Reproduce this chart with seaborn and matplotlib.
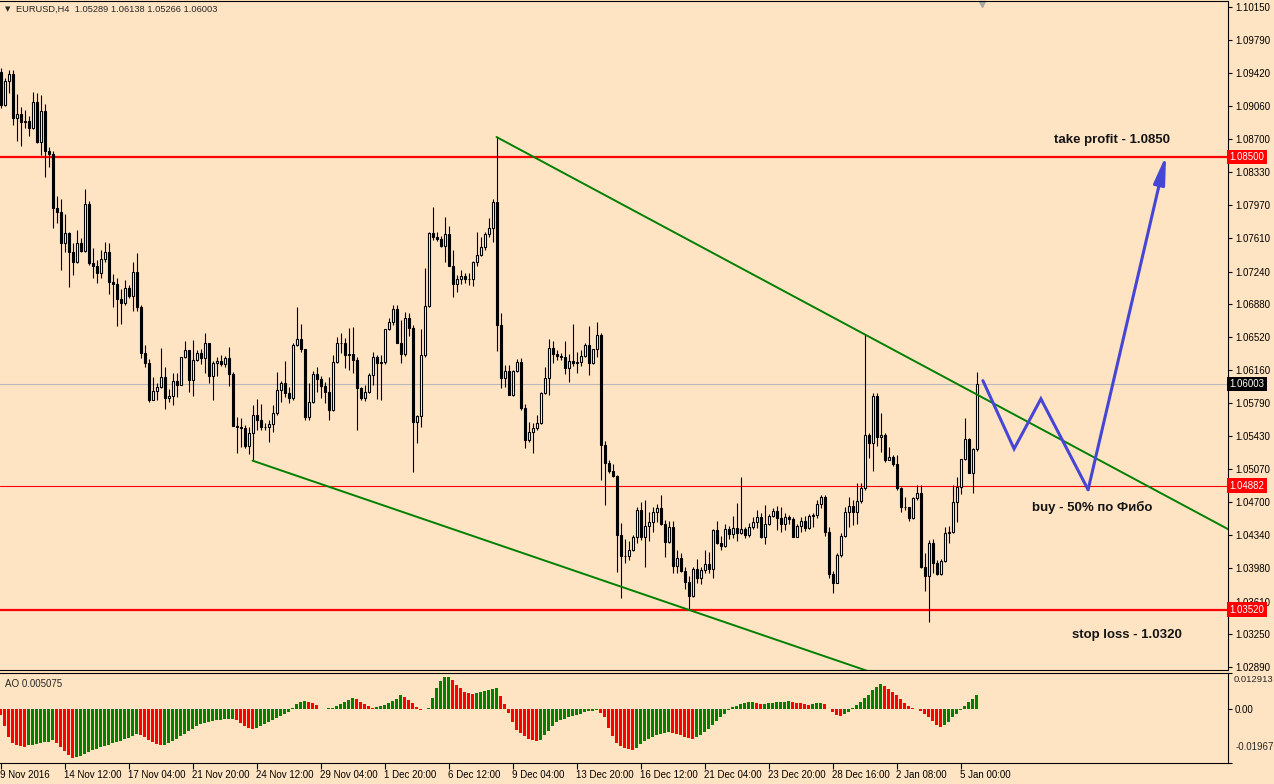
import numpy as np
import pandas as pd
import seaborn as sns
import matplotlib.pyplot as plt

sns.set_theme(style="white", rc={"axes.facecolor": "#FFE4C4", "figure.facecolor": "#FFE4C4",
                                 "axes.edgecolor": "black", "axes.linewidth": 0.8})
plt.rcParams['font.family'] = ['Liberation Sans', 'DejaVu Sans']

# EURUSD H4 candles (open of each bar = previous close)
open0 = 1.0944
highs = [
    1.0948, 1.0937, 1.0946, 1.0946, 1.0919, 1.0905, 1.0902, 1.0895, 1.0922, 1.0920,
    1.0918, 1.0908, 1.0861, 1.0857, 1.0807, 1.0804, 1.0787, 1.0768, 1.0755, 1.0770,
    1.0761, 1.0815, 1.0802, 1.0750, 1.0737, 1.0748, 1.0757, 1.0755, 1.0721, 1.0717,
    1.0705, 1.0715, 1.0709, 1.0735, 1.0744, 1.0687, 1.0643, 1.0628, 1.0608, 1.0601,
    1.0640, 1.0619, 1.0595, 1.0612, 1.0612, 1.0630, 1.0648, 1.0638, 1.0649, 1.0638,
    1.0639, 1.0656, 1.0645, 1.0626, 1.0630, 1.0632, 1.0631, 1.0641, 1.0614, 1.0564,
    1.0563, 1.0555, 1.0553, 1.0577, 1.0584, 1.0578, 1.0557, 1.0561, 1.0577, 1.0614,
    1.0604, 1.0626, 1.0597, 1.0645, 1.0685, 1.0666, 1.0639, 1.0601, 1.0615, 1.0619,
    1.0609, 1.0603, 1.0608, 1.0632, 1.0652, 1.0656, 1.0651, 1.0662, 1.0663, 1.0630,
    1.0597, 1.0599, 1.0612, 1.0636, 1.0632, 1.0632, 1.0661, 1.0673, 1.0687, 1.0687,
    1.0671, 1.0680, 1.0678, 1.0665, 1.0566, 1.0661, 1.0728, 1.0768, 1.0795, 1.0768,
    1.0763, 1.0784, 1.0774, 1.0748, 1.0720, 1.0726, 1.0722, 1.0722, 1.0736, 1.0768,
    1.0762, 1.0768, 1.0783, 1.0804, 1.0872, 1.0678, 1.0621, 1.0621, 1.0616, 1.0628,
    1.0629, 1.0578, 1.0559, 1.0557, 1.0566, 1.0592, 1.0619, 1.0650, 1.0648, 1.0638,
    1.0634, 1.0648, 1.0633, 1.0666, 1.0636, 1.0638, 1.0645, 1.0664, 1.0639, 1.0669,
    1.0656, 1.0538, 1.0517, 1.0512, 1.0500, 1.0447, 1.0430, 1.0428, 1.0434, 1.0465,
    1.0471, 1.0473, 1.0460, 1.0465, 1.0468, 1.0478, 1.0451, 1.0450, 1.0450, 1.0418,
    1.0414, 1.0399, 1.0389, 1.0399, 1.0408, 1.0399, 1.0418, 1.0416, 1.0441, 1.0450,
    1.0433, 1.0446, 1.0444, 1.0455, 1.0469, 1.0498, 1.0443, 1.0447, 1.0454, 1.0462,
    1.0458, 1.0467, 1.0457, 1.0464, 1.0466, 1.0465, 1.0458, 1.0456, 1.0454, 1.0446,
    1.0454, 1.0455, 1.0457, 1.0458, 1.0473, 1.0478, 1.0478, 1.0443, 1.0395, 1.0414,
    1.0436, 1.0465, 1.0476, 1.0473, 1.0491, 1.0491, 1.0655, 1.0546, 1.0590, 1.0590,
    1.0568, 1.0546, 1.0531, 1.0522, 1.0522, 1.0487, 1.0476, 1.0465, 1.0476, 1.0489,
    1.0489, 1.0414, 1.0429, 1.0430, 1.0407, 1.0408, 1.0443, 1.0444, 1.0489, 1.0498,
    1.0518, 1.0563, 1.0541, 1.0530, 1.06138]
lows = [
    1.0904, 1.0906, 1.0920, 1.0885, 1.0868, 1.0862, 1.0882, 1.0873, 1.0881, 1.0865,
    1.0852, 1.0828, 1.0839, 1.0772, 1.0777, 1.0726, 1.0746, 1.0707, 1.0720, 1.0733,
    1.0746, 1.0746, 1.0731, 1.0717, 1.0711, 1.0717, 1.0735, 1.0699, 1.0685, 1.0664,
    1.0666, 1.0687, 1.0695, 1.0681, 1.0681, 1.0629, 1.0619, 1.0581, 1.0583, 1.0583,
    1.0596, 1.0573, 1.0581, 1.0577, 1.0586, 1.0599, 1.0629, 1.0592, 1.0587, 1.0626,
    1.0622, 1.0612, 1.0601, 1.0583, 1.0609, 1.0620, 1.0619, 1.0598, 1.0554, 1.0524,
    1.0531, 1.0530, 1.0523, 1.0516, 1.0550, 1.0550, 1.0550, 1.0537, 1.0548, 1.0566,
    1.0581, 1.0586, 1.0579, 1.0583, 1.0642, 1.0636, 1.0561, 1.0561, 1.0579, 1.0592,
    1.0585, 1.0579, 1.0561, 1.0571, 1.0623, 1.0634, 1.0618, 1.0616, 1.0612, 1.0550,
    1.0583, 1.0582, 1.0590, 1.0599, 1.0584, 1.0583, 1.0622, 1.0660, 1.0665, 1.0645,
    1.0623, 1.0631, 1.0653, 1.0504, 1.0535, 1.0553, 1.0630, 1.0685, 1.0759, 1.0758,
    1.0751, 1.0735, 1.0730, 1.0696, 1.0702, 1.0710, 1.0711, 1.0709, 1.0708, 1.0730,
    1.0741, 1.0748, 1.0762, 1.0757, 1.0637, 1.0596, 1.0597, 1.0588, 1.0587, 1.0614,
    1.0572, 1.0530, 1.0537, 1.0524, 1.0550, 1.0556, 1.0589, 1.0588, 1.0623, 1.0627,
    1.0627, 1.0611, 1.0603, 1.0620, 1.0612, 1.0620, 1.0630, 1.0610, 1.0622, 1.0630,
    1.0495, 1.0467, 1.0502, 1.0498, 1.0394, 1.0365, 1.0403, 1.0407, 1.0417, 1.0425,
    1.0429, 1.0399, 1.0428, 1.0438, 1.0449, 1.0445, 1.0410, 1.0425, 1.0392, 1.0392,
    1.0394, 1.0375, 1.0352, 1.0366, 1.0381, 1.0380, 1.0392, 1.0392, 1.0387, 1.0424,
    1.0418, 1.0421, 1.0430, 1.0431, 1.0428, 1.0435, 1.0431, 1.0432, 1.0441, 1.0442,
    1.0431, 1.0424, 1.0445, 1.0454, 1.0440, 1.0438, 1.0440, 1.0446, 1.0432, 1.0432,
    1.0438, 1.0439, 1.0441, 1.0443, 1.0453, 1.0464, 1.0433, 1.0387, 1.0370, 1.0381,
    1.0410, 1.0432, 1.0443, 1.0445, 1.0446, 1.0469, 1.0484, 1.0519, 1.0505, 1.0532,
    1.0526, 1.0515, 1.0517, 1.0510, 1.0484, 1.0460, 1.0462, 1.0450, 1.0452, 1.0473,
    1.0398, 1.0373, 1.0339, 1.0392, 1.0390, 1.0390, 1.0405, 1.0425, 1.0436, 1.0449,
    1.0479, 1.0517, 1.0502, 1.0480, 1.05266]
closes = [
    1.0907, 1.0934, 1.0941, 1.0893, 1.0897, 1.0889, 1.0890, 1.0882, 1.0911, 1.0867,
    1.0901, 1.0857, 1.0853, 1.0794, 1.0790, 1.0755, 1.0766, 1.0746, 1.0735, 1.0755,
    1.0747, 1.0798, 1.0733, 1.0730, 1.0722, 1.0738, 1.0746, 1.0713, 1.0710, 1.0694,
    1.0689, 1.0706, 1.0697, 1.0724, 1.0685, 1.0634, 1.0623, 1.0583, 1.0593, 1.0597,
    1.0608, 1.0585, 1.0587, 1.0604, 1.0599, 1.0630, 1.0638, 1.0605, 1.0627, 1.0634,
    1.0629, 1.0645, 1.0609, 1.0623, 1.0626, 1.0622, 1.0629, 1.0611, 1.0554, 1.0553,
    1.0552, 1.0532, 1.0546, 1.0566, 1.0561, 1.0553, 1.0553, 1.0556, 1.0568, 1.0594,
    1.0601, 1.0590, 1.0585, 1.0643, 1.0650, 1.0639, 1.0564, 1.0581, 1.0611, 1.0606,
    1.0598, 1.0592, 1.0572, 1.0625, 1.0645, 1.0645, 1.0632, 1.0633, 1.0627, 1.0596,
    1.0585, 1.0592, 1.0610, 1.0630, 1.0623, 1.0625, 1.0661, 1.0669, 1.0683, 1.0645,
    1.0633, 1.0673, 1.0662, 1.0559, 1.0565, 1.0632, 1.0686, 1.0766, 1.0762, 1.0760,
    1.0752, 1.0765, 1.0730, 1.0710, 1.0716, 1.0719, 1.0716, 1.0716, 1.0735, 1.0742,
    1.0751, 1.0765, 1.0772, 1.0801, 1.0665, 1.0607, 1.0615, 1.0588, 1.0615, 1.0625,
    1.0574, 1.0539, 1.0548, 1.0552, 1.0557, 1.0590, 1.0607, 1.0640, 1.0633, 1.0631,
    1.0630, 1.0618, 1.0626, 1.0623, 1.0625, 1.0631, 1.0643, 1.0623, 1.0639, 1.0654,
    1.0533, 1.0513, 1.0505, 1.0499, 1.0434, 1.0411, 1.0411, 1.0418, 1.0432, 1.0462,
    1.0432, 1.0444, 1.0449, 1.0460, 1.0464, 1.0446, 1.0427, 1.0443, 1.0400, 1.0409,
    1.0395, 1.0383, 1.0367, 1.0397, 1.0387, 1.0396, 1.0402, 1.0397, 1.0440, 1.0425,
    1.0422, 1.0441, 1.0435, 1.0442, 1.0436, 1.0441, 1.0434, 1.0443, 1.0449, 1.0454,
    1.0432, 1.0446, 1.0455, 1.0461, 1.0453, 1.0446, 1.0454, 1.0452, 1.0432, 1.0444,
    1.0450, 1.0442, 1.0455, 1.0456, 1.0468, 1.0476, 1.0438, 1.0391, 1.0381, 1.0412,
    1.0433, 1.0460, 1.0466, 1.0460, 1.0472, 1.0486, 1.0544, 1.0535, 1.0587, 1.0542,
    1.0544, 1.0517, 1.0520, 1.0512, 1.0486, 1.0465, 1.0465, 1.0453, 1.0475, 1.0480,
    1.0399, 1.0389, 1.0425, 1.0403, 1.0391, 1.0406, 1.0436, 1.0437, 1.0471, 1.0487,
    1.0518, 1.0540, 1.0502, 1.0529, 1.06003]

# Awesome Oscillator, in units of 0.001
ao_milli = [
    -2.2, -6.3, -10.2, -12.3, -13.2, -13.5, -13.8, -13.3, -13.0, -12.8,
    -12.6, -12.2, -11.9, -11.5, -12.3, -13.8, -15.3, -16.8, -17.8, -17.6,
    -17.1, -16.4, -15.7, -15.1, -14.5, -14.0, -13.5, -13.0, -12.6, -12.1,
    -11.6, -11.1, -10.5, -9.9, -9.2, -9.5, -10.3, -11.3, -12.2, -12.9,
    -13.3, -13.0, -12.5, -11.7, -10.9, -9.9, -9.0, -8.0, -7.2, -6.3,
    -5.7, -5.1, -4.7, -4.4, -4.2, -4.0, -3.8, -3.7, -3.6, -4.2,
    -5.1, -6.1, -7.0, -7.4, -7.1, -6.3, -5.6, -4.9, -4.2, -3.5,
    -2.8, -2.0, -1.3, 0.2, 1.6, 2.4, 2.9, 2.5, 2.0, 1.2,
    -0.1, -0.2, 0.1, 0.4, 0.8, 1.6, 2.4, 3.2, 4.0, 3.5,
    2.5, 1.8, 1.1, 0.4, 0.6, 1.0, 1.4, 2.0, 2.9, 3.6,
    4.8, 4.2, 3.2, 2.0, 0.5, -0.6, -0.2, 0.2, 3.8, 7.4,
    10.1, 11.3, 11.4, 10.2, 8.6, 7.4, 6.2, 5.6, 5.3, 5.6,
    6.0, 6.4, 6.8, 7.3, 7.6, 4.7, 1.8, -1.6, -4.8, -7.6,
    -8.8, -9.9, -10.9, -11.2, -11.6, -11.2, -9.7, -8.0, -6.4, -4.9,
    -4.2, -3.7, -3.1, -2.6, -2.2, -1.8, -1.3, -1.0, -0.7, -0.6,
    -1.6, -3.0, -7.0, -9.9, -12.3, -13.5, -14.1, -14.6, -15.0, -14.1,
    -12.9, -11.7, -10.9, -10.2, -9.6, -9.1, -8.7, -8.5, -8.7, -9.3,
    -9.7, -10.2, -10.5, -10.9, -10.2, -9.5, -8.5, -7.3, -5.9, -4.4,
    -3.0, -1.9, -0.6, 0.5, 1.1, 1.7, 2.2, 2.3, 2.4, 2.0,
    1.6, 1.8, 2.0, 2.2, 2.3, 2.4, 2.5, 2.6, 2.3, 2.0,
    1.9, 1.7, 1.5, 1.7, 1.9, 2.0, 1.6, -0.1, -1.3, -2.3,
    -2.5, -1.9, -1.1, 0.1, 1.3, 2.4, 3.7, 5.1, 6.6, 8.0,
    8.9, 8.3, 7.3, 6.1, 4.9, 3.5, 2.0, 0.8, 0.1, -0.3,
    -1.0, -1.8, -3.0, -4.4, -5.9, -6.7, -5.9, -4.7, -3.2, -1.8,
    -0.4, 1.1, 2.3, 3.5, 5.075]

time_labels = ["9 Nov 2016", "14 Nov 12:00", "17 Nov 04:00", "21 Nov 20:00", "24 Nov 12:00",
               "29 Nov 04:00", "1 Dec 20:00", "6 Dec 12:00", "9 Dec 04:00", "13 Dec 20:00",
               "16 Dec 12:00", "21 Dec 04:00", "23 Dec 20:00", "28 Dec 16:00", "2 Jan 08:00",
               "5 Jan 00:00"]
price_ticks = [1.10150, 1.09790, 1.09420, 1.09060, 1.08700, 1.08330, 1.07970, 1.07610,
               1.07240, 1.06880, 1.06520, 1.06160, 1.05790, 1.05430, 1.05070, 1.04700,
               1.04340, 1.03980, 1.03610, 1.03250, 1.02890]
ao_max, ao_min = 0.012913, -0.019676
take_profit = 1.0850
buy_level = 1.04882
stop_level = 1.0352
bid = 1.06003
# hand-drawn forecast path (bar index, price)
path_bars = [245.6, 253.4, 260.1, 271.9, 291.4]
path_prices = [1.0604, 1.0529, 1.0584, 1.0484, 1.0852]

highs = np.array(highs)
lows = np.array(lows)
closes = np.array(closes)
opens = np.r_[open0, closes[:-1]]
bars = np.arange(len(closes))
up = closes >= opens

W, H = 1274, 784
fig = plt.figure(figsize=(W / 100, H / 100), dpi=100)
ax = fig.add_axes([0, 1 - 670 / H, 1228 / W, 669 / H])
ax2 = fig.add_axes([0, 1 - 763 / H, 1228 / W, 90 / H])

xmin, xmax = -0.125, 306.875

# horizontal levels
ax.axhline(bid, color="#B8B8B8", lw=0.8, zorder=1)
ax.axhline(take_profit, color="red", lw=1.6, zorder=1)
ax.axhline(buy_level, color="red", lw=0.8, zorder=1)
ax.axhline(stop_level, color="red", lw=1.6, zorder=1)

# candles
ax.vlines(bars, lows, highs, color="black", lw=0.8, zorder=2)
ax.bar(bars[up], (closes - opens)[up], bottom=opens[up], width=0.5,
       color="white", edgecolor="black", linewidth=0.8, zorder=3)
ax.bar(bars[~up], (closes - opens)[~up], bottom=opens[~up], width=0.5,
       color="black", edgecolor="black", linewidth=0.8, zorder=3)

# trend lines through the swing highs / lows
def ray(i0, p0, i1, p1):
    k = (p1 - p0) / (i1 - i0)
    return [i0, xmax], [p0, p0 + k * (xmax - i0)]

tx, ty = ray(124, highs[124], 216, highs[216])
ax.plot(tx, ty, color="#008000", lw=1.4, zorder=4)
tx, ty = ray(63, lows[63], 172, lows[172])
ax.plot(tx, ty, color="#008000", lw=1.4, zorder=4)

# forecast path with arrow
blue = "#4646D6"
ax.plot(path_bars[:4], path_prices[:4], color=blue, lw=2.2, zorder=5, solid_joinstyle="miter")
ax.annotate("", xy=(path_bars[4], path_prices[4]), xytext=(path_bars[3], path_prices[3]),
            arrowprops=dict(arrowstyle="-|>,head_length=1.4,head_width=0.28", color=blue,
                            lw=2.2, shrinkA=0, shrinkB=0), zorder=5)

tkw = dict(fontsize=9.5, fontweight="bold", color="#141414", ha="center", va="center", zorder=6)
ax.text(277.9, 1.08687, "take profit - 1.0850", **tkw)
ax.text(272.9, 1.0465, "buy - 50% по Фибо", **tkw)
ax.text(281.6, 1.03240, "stop loss - 1.0320", **tkw)

ax.set_xlim(xmin, xmax)
ax.set_ylim(1.02857, 1.10216)
ax.set_xticks([])
ax.yaxis.tick_right()
ax.set_yticks(price_ticks)
ax.set_yticklabels([f"{v:.5f}" for v in price_ticks])
ax.tick_params(axis="y", right=True, length=3, width=0.8, pad=2, labelsize=7, colors="black")
ax.spines["left"].set_visible(False)

# coloured price tags on the scale
for val, fc in [(take_profit, "red"), (bid, "black"), (buy_level, "red"), (stop_level, "red")]:
    ax.text(1.0012, val, f"{val:.5f}", transform=ax.get_yaxis_transform(), ha="left", va="center",
            fontsize=7, color="white", clip_on=False, zorder=10,
            bbox=dict(boxstyle="square,pad=0.25", fc=fc, ec="none"))

ax.plot([245.3], [0.995], marker="v", ms=5, color="#A8A8A8", transform=ax.get_xaxis_transform(),
        clip_on=False)

fig.text(5 / W, 1 - 9 / H, "▼", fontsize=5, va="center", family="DejaVu Sans")
fig.text(16 / W, 1 - 9 / H, "EURUSD,H4  1.05289 1.06138 1.05266 1.06003", fontsize=6.7, va="center")

# AO histogram
ao = np.array(ao_milli) / 1000
ao_df = pd.DataFrame({"bar": bars, "ao": ao,
                      "dir": np.where(np.diff(ao, prepend=np.inf) > 0, "up", "down")})
sns.barplot(data=ao_df, x="bar", y="ao", hue="dir", palette={"up": "#008000", "down": "#FF0000"},
            native_scale=True, width=0.75, saturation=1, errorbar=None, dodge=False,
            legend=False, linewidth=0, ax=ax2)
ax2.set_xlim(xmin, xmax)
ax2.set_ylim(ao_min, ao_max)
ax2.set_xlabel("")
ax2.set_ylabel("")
ax2.yaxis.tick_right()
ax2.set_yticks([ao_max, 0.0, ao_min])
ax2.set_yticklabels(["", "0.00", ""])
ax2.tick_params(axis="y", right=True, length=3, width=0.8, pad=2, labelsize=7, colors="black")
# MT4 keeps the extreme scale labels inside the panel
ax2.text(1.0042, 0.925, f"{ao_max:.6f}", transform=ax2.transAxes, fontsize=6.8, va="center",
         clip_on=False)
ax2.text(1.0065, 0.18, f"{ao_min:.6f}", transform=ax2.transAxes, fontsize=7, va="center",
         clip_on=False)
ax2.set_xticks(bars[::16])
ax2.set_xticklabels(time_labels)
ax2.tick_params(axis="x", bottom=True, length=4, width=0.8, pad=1, labelsize=7, colors="black")
for lab in ax2.get_xticklabels():
    lab.set_ha("left")
ax2.spines["left"].set_visible(False)
ax2.text(0.004, 0.88, "AO 0.005075", transform=ax2.transAxes, fontsize=7, va="center")

fig.savefig("out.png", dpi=100, facecolor="#FFE4C4")
